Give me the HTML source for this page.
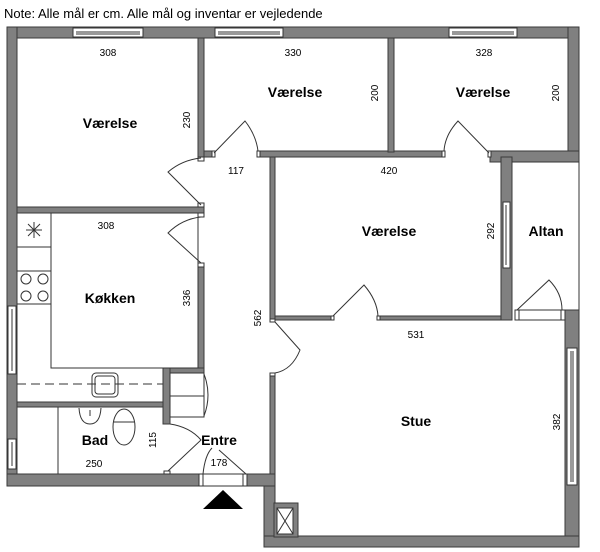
<!DOCTYPE html>
<html><head><meta charset="utf-8"><style>
html,body{margin:0;padding:0;background:#fff;}
svg{display:block;}
text{font-family:"Liberation Sans","DejaVu Sans",sans-serif;fill:#000;}
.l{font-size:14px;font-weight:bold;text-anchor:middle;}
.d{font-size:10px;text-anchor:middle;}
</style></head><body>
<svg width="600" height="552" viewBox="0 0 600 552" xmlns="http://www.w3.org/2000/svg">
<text x="4" y="18" style="font-size:13px">Note: Alle mål er cm. Alle mål og inventar er vejledende</text>
<g fill="#808080" stroke="#3a3a3a" stroke-width="1">
<!-- outer top -->
<rect x="7" y="27" width="572" height="11"/>
<!-- left wall -->
<rect x="7" y="27" width="10" height="459"/>
<!-- right wall upper -->
<rect x="568" y="27" width="11" height="135"/>
<!-- room2/3 bottom wall pieces -->
<rect x="198" y="151" width="15" height="6"/>
<rect x="259" y="151" width="184" height="6"/>
<rect x="490" y="151" width="89" height="11"/>
<!-- room1 right wall -->
<rect x="198" y="38" width="6" height="120"/>
<!-- room2/3 divider -->
<rect x="388" y="38" width="6" height="114"/>
<!-- room1 bottom wall -->
<rect x="17" y="207" width="187" height="6"/>
<!-- kitchen right wall -->
<rect x="198" y="265" width="6" height="104"/>
<!-- hall right wall -->
<rect x="270" y="157" width="5" height="162"/>
<rect x="270" y="373" width="5" height="113"/>
<rect x="264" y="474" width="11" height="73"/>
<!-- room4 right wall -->
<rect x="501" y="157" width="11" height="163"/>
<!-- room4 bottom wall -->
<rect x="275" y="316" width="58" height="4"/>
<rect x="378" y="316" width="123" height="4"/>
<!-- right wall lower -->
<rect x="565" y="310" width="14" height="237"/>
<!-- bottom walls -->
<rect x="7" y="474" width="192" height="12"/>
<rect x="247" y="474" width="28" height="12"/>
<rect x="264" y="536" width="315" height="11"/>
<!-- kitchen/bad walls -->
<rect x="17" y="402" width="153" height="5"/>
<rect x="163" y="368" width="41" height="5"/>
<rect x="163" y="368" width="7" height="56"/>
<!-- shaft -->
<rect x="274" y="503" width="24" height="34"/>
</g>
<!-- windows -->
<g fill="#fff" stroke="#333" stroke-width="1">
<rect x="73" y="28" width="70" height="9"/><line x1="76" y1="32" x2="140" y2="32"/><line x1="76" y1="34" x2="140" y2="34"/>
<rect x="215" y="28" width="68" height="9"/><line x1="218" y1="32" x2="280" y2="32"/><line x1="218" y1="34" x2="280" y2="34"/>
<rect x="449" y="28" width="68" height="9"/><line x1="452" y1="32" x2="514" y2="32"/><line x1="452" y1="34" x2="514" y2="34"/>
<rect x="503" y="202" width="7" height="66"/><line x1="506" y1="205" x2="506" y2="265"/>
<rect x="567" y="348" width="10" height="137"/><line x1="571" y1="351" x2="571" y2="482"/><line x1="573" y1="351" x2="573" y2="482"/>
<rect x="8" y="306" width="8" height="68"/><line x1="12" y1="309" x2="12" y2="371"/>
<rect x="8" y="439" width="8" height="30"/><line x1="12" y1="442" x2="12" y2="466"/>
<!-- entry frame -->
<rect x="199" y="474" width="48" height="12"/><line x1="203" y1="474" x2="203" y2="486"/><line x1="243" y1="474" x2="243" y2="486"/>
<!-- altan frame -->
<rect x="515" y="310" width="50" height="10"/><line x1="519" y1="310" x2="519" y2="320"/><line x1="561" y1="310" x2="561" y2="320"/>
<!-- shaft inner -->
<rect x="277" y="508" width="16" height="26"/>
<!-- jambs -->
<rect x="198" y="157" width="6" height="4"/><rect x="198" y="203" width="6" height="4"/>
<rect x="198" y="213" width="6" height="4"/><rect x="198" y="263" width="6" height="4"/>
<rect x="212" y="151" width="3" height="6"/><rect x="257" y="151" width="3" height="6"/>
<rect x="442" y="151" width="3" height="6"/><rect x="488" y="151" width="3" height="6"/>
<rect x="331" y="316" width="3" height="4"/><rect x="377" y="316" width="3" height="4"/>
<rect x="270" y="319" width="5" height="3"/><rect x="270" y="373" width="5" height="3"/>
<rect x="164" y="471" width="6" height="3"/>
</g>
<g fill="none" stroke="#333" stroke-width="1">
<line x1="277" y1="508" x2="293" y2="534"/><line x1="293" y1="508" x2="277" y2="534"/>
<!-- altan outline -->
<polyline points="512,162 579,162 579,310"/>
<!-- doors -->
<path d="M201,205 L168,172 Q182,160 201,158"/>
<path d="M201,263 L168,233 Q182,219 201,217"/>
<path d="M214,153 L245,121 Q256,135 258,151"/>
<path d="M489,153 L458,121 Q445,135 444,151"/>
<path d="M333,316 L364,285 Q377,300 378,316"/>
<path d="M275,322 L300,350 Q292,370 275,373"/>
<path d="M517,310 L549,280 Q562,293 562,310"/>
<path d="M168,471 L201,440 Q190,427 170,424"/>
<path d="M203,474 Q205,455 212,448"/><line x1="219" y1="450" x2="246" y2="474"/>
<path d="M204,374 Q212,395 204,416"/>
<!-- kitchen -->
<rect x="51" y="213" width="147" height="155"/>
<line x1="17" y1="247" x2="51" y2="247"/><line x1="17" y1="271" x2="51" y2="271"/><line x1="17" y1="304" x2="51" y2="304"/>
<circle cx="26" cy="279" r="5"/><circle cx="43" cy="279" r="5"/><circle cx="26" cy="296" r="5"/><circle cx="43" cy="296" r="5"/>
<line x1="26" y1="230" x2="42" y2="230"/><line x1="34" y1="222" x2="34" y2="238"/><line x1="28" y1="224" x2="40" y2="236"/><line x1="40" y1="224" x2="28" y2="236"/>
<line x1="17" y1="384" x2="163" y2="384" stroke-dasharray="9,5"/>
<rect x="92" y="373" width="26" height="24" rx="4"/><rect x="95" y="376" width="20" height="18" rx="3"/>
<!-- cabinet -->
<rect x="170" y="373" width="34" height="44"/><line x1="170" y1="396" x2="204" y2="396"/>
<!-- bad -->
<line x1="58" y1="407" x2="58" y2="474"/>
<path d="M79,408 Q80,424 90,424 Q100,424 101,408"/><path d="M90,410 v6"/>
<ellipse cx="124" cy="427" rx="11" ry="18"/><line x1="114" y1="422" x2="134" y2="422"/>
</g>
<polygon points="203,509 243,509 223,490" fill="#000"/>
<text class="l" x="110" y="128">Værelse</text>
<text class="l" x="295" y="97">Værelse</text>
<text class="l" x="483" y="97">Værelse</text>
<text class="l" x="389" y="236">Værelse</text>
<text class="l" x="546" y="236">Altan</text>
<text class="l" x="110" y="303">Køkken</text>
<text class="l" x="416" y="426">Stue</text>
<text class="l" x="95" y="445">Bad</text>
<text class="l" x="219" y="445">Entre</text>
<text class="d" x="108" y="56">308</text>
<text class="d" x="293" y="56">330</text>
<text class="d" x="484" y="56">328</text>
<text class="d" x="236" y="174">117</text>
<text class="d" x="389" y="174">420</text>
<text class="d" x="106" y="229">308</text>
<text class="d" x="416" y="338">531</text>
<text class="d" x="94" y="467">250</text>
<text class="d" x="219" y="466">178</text>
<text class="d" transform="translate(190,120) rotate(-90)">230</text>
<text class="d" transform="translate(378,93) rotate(-90)">200</text>
<text class="d" transform="translate(559,93) rotate(-90)">200</text>
<text class="d" transform="translate(494,231) rotate(-90)">292</text>
<text class="d" transform="translate(190,298) rotate(-90)">336</text>
<text class="d" transform="translate(261,318) rotate(-90)">562</text>
<text class="d" transform="translate(560,422) rotate(-90)">382</text>
<text class="d" transform="translate(156,440) rotate(-90)">115</text>
</svg>
</body></html>
